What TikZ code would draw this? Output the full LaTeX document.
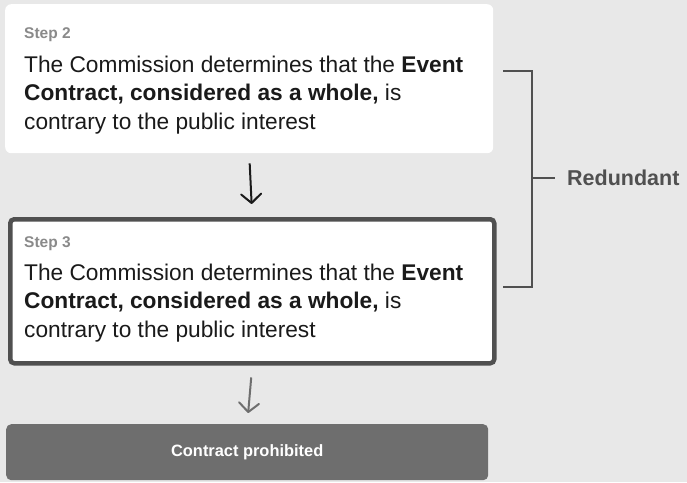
\documentclass[tikz,border=0pt]{standalone}
\usepackage{fontspec}
\setmainfont{Liberation Sans}
\usetikzlibrary{arrows.meta,positioning}
\definecolor{paper}{HTML}{E8E8E8}
\definecolor{ink}{HTML}{1A1A1A}
\definecolor{slate}{HTML}{505050}
\definecolor{mist}{HTML}{8A8A8A}
\definecolor{ash}{HTML}{6E6E6E}

\begin{document}
\begin{tikzpicture}[x=1pt, y=-1pt,
    card/.style={fill=white, rounded corners=6pt, anchor=north west, inner sep=0pt},
    framed/.style={card, draw=slate, line width=4.5pt, rounded corners=4pt},
    verdict/.style={fill=ash, rounded corners=5pt, anchor=north west, inner sep=0pt,
                    text=white, font=\fontsize{16.4}{18}\selectfont\bfseries},
    steplabel/.style={anchor=base west, inner sep=0pt, text=mist,
                      font=\fontsize{15.5}{17}\selectfont\bfseries},
    body/.style={anchor=north west, inner sep=0pt, align=left, text=ink,
                 font=\fontsize{22.7}{28.5}\selectfont},
    flow/.style={-{Straight Barb[length=9pt, width=20pt, round]}, line width=2pt, color=ink},
    bracket/.style={line width=2pt, color=slate}
]
    \fill[paper] (0,0) rectangle (687,482);
    \useasboundingbox (0,0) rectangle (687,482);

    % step 2 card
    \node[card, minimum width=488pt, minimum height=149pt] (step2) at (5,4) {};
    \node[steplabel] (step2lab) at (24,38) {Step 2};
    \node[body] (step2txt) at (24,55.5) {The Commission determines that the \textbf{Event}\\
        \textbf{Contract, considered as a whole,} is\\
        contrary to the public interest};

    % step 3 card
    \node[framed, minimum width=484pt, minimum height=144pt] (step3) at (8,217) {};
    \node[steplabel] (step3lab) at (24,247) {Step 3};
    \node[body] (step3txt) at (24,263.5) {The Commission determines that the \textbf{Event}\\
        \textbf{Contract, considered as a whole,} is\\
        contrary to the public interest};

    % outcome
    \node[verdict, minimum width=482pt, minimum height=56pt] (result) at (6,424) {Contract prohibited};

    \draw[flow, shorten <=10pt, shorten >=13pt] (step2.south) -- (step3.north);
    \draw[flow, color=ash, shorten <=12pt, shorten >=11pt] (step3.south) -- (result.north);

    % bracket
    \coordinate (btop) at (503,71);
    \coordinate (bbot) at (503,287);
    \coordinate (bmid) at (532,178);
    \node[anchor=west, inner sep=0pt, inner xsep=12pt, text=slate,
          font=\fontsize{21.5}{23}\selectfont\bfseries] (redundant) at (555,178) {Redundant};
    \draw[bracket] (btop) -- ++(29,0) |- (bbot);
    \draw[bracket] (bmid) -- (redundant.west);
\end{tikzpicture}
\end{document}
